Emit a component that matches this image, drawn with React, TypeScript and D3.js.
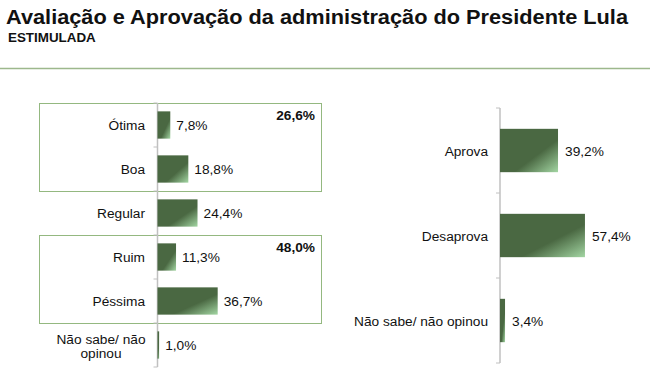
import React from "react";
import * as d3 from "d3";

const evalCategories = ["Ótima", "Boa", "Regular", "Ruim", "Péssima", "Não sabe/ não opinou"];
const evalValues = [7.8, 18.8, 24.4, 11.3, 36.7, 1.0];
const evalLabels = ["7,8%", "18,8%", "24,4%", "11,3%", "36,7%", "1,0%"];
const groupTotals = ["26,6%", "48,0%"];
const groupMembers = [["Ótima", "Boa"], ["Ruim", "Péssima"]];

const apprCategories = ["Aprova", "Desaprova", "Não sabe/ não opinou"];
const apprValues = [39.2, 57.4, 3.4];
const apprLabels = ["39,2%", "57,4%", "3,4%"];

const FONT = "'Liberation Sans', Arial, sans-serif";
const DARK = "#4a6842";
const FS = 13.7;

export default function App() {
  const W = 650, H = 389;

  // Left chart
  const lAxisX = 157.5;
  const lx = d3.scaleLinear().domain([0, 100]).range([lAxisX, lAxisX + 164]);
  const lStep = 44;
  const ly = d3.scaleBand<string>().domain(evalCategories).range([103, 103 + lStep * evalCategories.length])
    .paddingInner(0.38).paddingOuter(0.19);

  // Right chart
  const rAxisX = 500;
  const rx = d3.scaleLinear().domain([0, 100]).range([rAxisX, rAxisX + 148]);
  const rStep = 85;
  const ry = d3.scaleBand<string>().domain(apprCategories).range([108, 108 + rStep * apprCategories.length])
    .paddingInner(0.49).paddingOuter(0.245);

  const lBounds = d3.range(evalCategories.length + 1).map(i => 103 + i * lStep);
  const rBounds = d3.range(apprCategories.length + 1).map(i => 108 + i * rStep);

  return (
    <svg width={W} height={H} style={{ position: "absolute", left: 0, top: 0 }} fontFamily={FONT}>
      <defs>
        <linearGradient id="barGrad" x1="0" y1="0" x2="1" y2="1">
          <stop offset="0" stopColor={DARK} />
          <stop offset="0.62" stopColor={DARK} />
          <stop offset="1" stopColor="#a3d6a3" />
        </linearGradient>
      </defs>
      <rect x={0} y={0} width={W} height={H} fill="#fff" />
      <text x={6} y={24} fontSize={19.5} fontWeight="bold" fill="#111" textLength={622} lengthAdjust="spacingAndGlyphs">Avaliação e Aprovação da administração do Presidente Lula</text>
      <text x={8} y={42} fontSize={13.4} fontWeight="bold" fill="#111">ESTIMULADA</text>
      <line x1={0} x2={W} y1={68.5} y2={68.5} stroke="#9db88c" strokeWidth={1.5} />

      {/* group boxes */}
      {groupMembers.map((g, i) => {
        const y0 = (ly(g[0]) as number) - ly.step() * 0.19;
        const y1 = (ly(g[g.length - 1]) as number) + ly.bandwidth() + ly.step() * 0.19;
        return (
          <g key={i}>
            <rect x={39.5} y={y0 + 0.5} width={282} height={y1 - y0} fill="none" stroke="#94b880" strokeWidth={1} />
            <text x={315} y={y0 + 17} textAnchor="end" fontSize={FS} fontWeight="bold" fill="#111">{groupTotals[i]}</text>
          </g>
        );
      })}

      {/* left axis */}
      <line x1={lAxisX} x2={lAxisX} y1={lBounds[0]} y2={lBounds[lBounds.length - 1]} stroke="#c0c0c0" strokeWidth={1.5} />
      {lBounds.map((b, i) => (
        <line key={i} x1={lAxisX - 4} x2={lAxisX} y1={b} y2={b} stroke="#c0c0c0" strokeWidth={1} />
      ))}
      {evalCategories.map((c, i) => {
        const y = ly(c) as number;
        const cy = y + ly.bandwidth() / 2;
        return (
          <g key={c}>
            <rect x={lx(0)} y={y} width={lx(evalValues[i]) - lx(0)} height={ly.bandwidth()} fill="url(#barGrad)" />
            <text x={lx(evalValues[i]) + 6} y={cy + 5} fontSize={FS} fill="#111">{evalLabels[i]}</text>
            {i === evalCategories.length - 1 ? (
              <text x={101} y={cy - 1.5} textAnchor="middle" fontSize={FS} fill="#111">
                <tspan x={101}>Não sabe/ não</tspan>
                <tspan x={101} dy={14}>opinou</tspan>
              </text>
            ) : (
              <text x={145} y={cy + 5} textAnchor="end" fontSize={FS} fill="#111">{c}</text>
            )}
          </g>
        );
      })}

      {/* right axis */}
      <line x1={rAxisX} x2={rAxisX} y1={rBounds[0]} y2={rBounds[rBounds.length - 1]} stroke="#c0c0c0" strokeWidth={1.5} />
      {rBounds.map((b, i) => (
        <line key={i} x1={rAxisX - 4} x2={rAxisX} y1={b} y2={b} stroke="#c0c0c0" strokeWidth={1} />
      ))}
      {apprCategories.map((c, i) => {
        const y = ry(c) as number;
        const cy = y + ry.bandwidth() / 2;
        return (
          <g key={c}>
            <rect x={rx(0)} y={y} width={rx(apprValues[i]) - rx(0)} height={ry.bandwidth()} fill="url(#barGrad)" />
            <text x={rx(apprValues[i]) + 7} y={cy + 5} fontSize={FS} fill="#111">{apprLabels[i]}</text>
            <text x={488} y={cy + 5} textAnchor="end" fontSize={FS} fill="#111">{c}</text>
          </g>
        );
      })}
    </svg>
  );
}
